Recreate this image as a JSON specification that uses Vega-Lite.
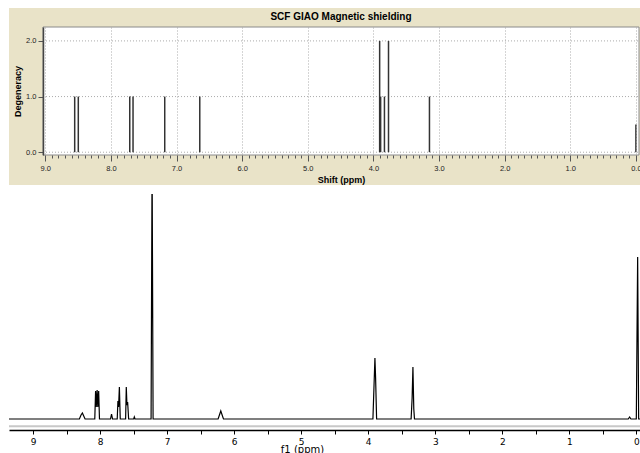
{
  "$schema": "https://vega.github.io/schema/vega-lite/v6.json",
  "padding": {"left": 8, "top": 8, "right": 0, "bottom": 0},
  "background": "white",
  "spacing": 8,
  "columns": 1,
  "config": {"view": {"stroke": null}, "font": "Liberation Sans"},
  "datasets": {
    "sticks": [
      {"shift": 8.552, "degeneracy": 1},
      {"shift": 8.497, "degeneracy": 1},
      {"shift": 7.713, "degeneracy": 1},
      {"shift": 7.663, "degeneracy": 1},
      {"shift": 7.18, "degeneracy": 1},
      {"shift": 6.646, "degeneracy": 1},
      {"shift": 3.905, "degeneracy": 2},
      {"shift": 3.89, "degeneracy": 1},
      {"shift": 3.832, "degeneracy": 1},
      {"shift": 3.77, "degeneracy": 2},
      {"shift": 3.146, "degeneracy": 1},
      {"shift": 0.0, "degeneracy": 0.5}
    ],
    "gridlevels": [{"level": 0}, {"level": 1}, {"level": 2}],
    "spectrum": [
      {"ppm": 9.36, "intensity": 0},
      {"ppm": 8.31, "intensity": 0},
      {"ppm": 8.285, "intensity": 4},
      {"ppm": 8.265, "intensity": 6},
      {"ppm": 8.245, "intensity": 3},
      {"ppm": 8.225, "intensity": 0},
      {"ppm": 8.08, "intensity": 0},
      {"ppm": 8.068, "intensity": 28},
      {"ppm": 8.058, "intensity": 12},
      {"ppm": 8.045, "intensity": 29},
      {"ppm": 8.035, "intensity": 12},
      {"ppm": 8.022, "intensity": 28},
      {"ppm": 8.01, "intensity": 0},
      {"ppm": 7.845, "intensity": 0},
      {"ppm": 7.83, "intensity": 5},
      {"ppm": 7.815, "intensity": 0},
      {"ppm": 7.745, "intensity": 0},
      {"ppm": 7.735, "intensity": 18},
      {"ppm": 7.725, "intensity": 12},
      {"ppm": 7.713, "intensity": 32},
      {"ppm": 7.7, "intensity": 0},
      {"ppm": 7.62, "intensity": 0},
      {"ppm": 7.61, "intensity": 32},
      {"ppm": 7.6, "intensity": 14},
      {"ppm": 7.59, "intensity": 17},
      {"ppm": 7.575, "intensity": 0},
      {"ppm": 7.5, "intensity": 0},
      {"ppm": 7.49, "intensity": 2},
      {"ppm": 7.48, "intensity": 0},
      {"ppm": 7.24, "intensity": 0},
      {"ppm": 7.225, "intensity": 260},
      {"ppm": 7.21, "intensity": 0},
      {"ppm": 6.24, "intensity": 0},
      {"ppm": 6.2, "intensity": 8},
      {"ppm": 6.16, "intensity": 0},
      {"ppm": 3.93, "intensity": 0},
      {"ppm": 3.9, "intensity": 61},
      {"ppm": 3.89, "intensity": 41},
      {"ppm": 3.875, "intensity": 0},
      {"ppm": 3.36, "intensity": 0},
      {"ppm": 3.345, "intensity": 21},
      {"ppm": 3.333, "intensity": 52},
      {"ppm": 3.32, "intensity": 10},
      {"ppm": 3.31, "intensity": 0},
      {"ppm": 0.12, "intensity": 0},
      {"ppm": 0.1, "intensity": 2},
      {"ppm": 0.08, "intensity": 0},
      {"ppm": 0.0, "intensity": 0},
      {"ppm": -0.02, "intensity": 162},
      {"ppm": -0.035, "intensity": 0},
      {"ppm": -0.07, "intensity": 0}
    ]
  },
  "concat": [
    {
      "width": 630,
      "height": 128,
      "title": {"text": "SCF GIAO Magnetic shielding", "fontSize": 10, "fontWeight": "bold", "font": "Liberation Sans", "color": "black", "offset": -14, "dx": 17, "zindex": 1},
      "resolve": {"axis": {"x": "independent"}},
      "layer": [
        {
          "data": {"values": [{}]},
          "mark": {"type": "rect", "fill": "#e9e3c8", "clip": false},
          "encoding": {
            "x": {"datum": 9.553, "type": "quantitative", "scale": {"domain": [9.553, -0.047], "nice": false, "zero": false}, "axis": null},
            "x2": {"datum": -0.1},
            "y": {"datum": 2.59, "type": "quantitative", "scale": {"domain": [-0.05, 2.25], "nice": false, "zero": false}},
            "y2": {"datum": -0.59}
          }
        },
        {
          "data": {"values": [{}]},
          "mark": {"type": "rect", "fill": "white", "stroke": "#8a8a8a", "strokeWidth": 1, "clip": false},
          "encoding": {
            "x": {
              "datum": 9.035, "type": "quantitative",
              "scale": {"domain": [9.553, -0.047], "nice": false, "zero": false},
              "axis": {
                "orient": "bottom", "title": null, "labels": false, "domain": false, "grid": false,
                "values": [0.1,0.2,0.3,0.4,0.5,0.6,0.7,0.8,0.9,1.1,1.2,1.3,1.4,1.5,1.6,1.7,1.8,1.9,2.1,2.2,2.3,2.4,2.5,2.6,2.7,2.8,2.9,3.1,3.2,3.3,3.4,3.5,3.6,3.7,3.8,3.9,4.1,4.2,4.3,4.4,4.5,4.6,4.7,4.8,4.9,5.1,5.2,5.3,5.4,5.5,5.6,5.7,5.8,5.9,6.1,6.2,6.3,6.4,6.5,6.6,6.7,6.8,6.9,7.1,7.2,7.3,7.4,7.5,7.6,7.7,7.8,7.9,8.1,8.2,8.3,8.4,8.5,8.6,8.7,8.8,8.9],
                "tickSize": 3, "tickColor": "#555555", "zindex": 1
              }
            },
            "x2": {"datum": -0.047},
            "y": {"datum": 2.25, "type": "quantitative", "scale": {"domain": [-0.05, 2.25], "nice": false, "zero": false}},
            "y2": {"datum": -0.05}
          }
        },
        {
          "data": {"name": "gridlevels"},
          "mark": {"type": "rule", "color": "#aaaaaa", "strokeDash": [1, 2], "strokeWidth": 1},
          "encoding": {
            "x": {"datum": 9.035, "type": "quantitative", "scale": {"domain": [9.553, -0.047], "nice": false, "zero": false}, "axis": null},
            "x2": {"datum": -0.047},
            "y": {"field": "level", "type": "quantitative", "scale": {"domain": [-0.05, 2.25], "nice": false, "zero": false}}
          }
        },
        {
          "data": {"name": "sticks"},
          "mark": {"type": "rule", "color": "#333333", "strokeWidth": 1.5},
          "encoding": {
            "x": {
              "field": "shift", "type": "quantitative",
              "scale": {"domain": [9.553, -0.047], "nice": false, "zero": false},
              "axis": {
                "orient": "bottom",
                "title": "Shift (ppm)", "titleFontSize": 9, "titleFontWeight": "bold", "titleColor": "black", "titlePadding": 4, "titleX": 332,
                "values": [0,1,2,3,4,5,6,7,8,9], "format": ".1f",
                "labelFontSize": 7.5, "labelColor": "#222222", "labelPadding": 3, "labelFlush": false, "labelOverlap": false,
                "tickSize": 6, "tickColor": "#555555",
                "domain": false,
                "grid": true, "gridColor": "#aaaaaa", "gridDash": [1, 2],
                "zindex": 1
              }
            },
            "y": {
              "field": "degeneracy", "type": "quantitative",
              "scale": {"domain": [-0.05, 2.25], "nice": false, "zero": false},
              "axis": {
                "offset": -34,
                "title": "Degeneracy", "titleFontSize": 9, "titleFontWeight": "bold", "titleColor": "black", "titlePadding": 3,
                "values": [0, 1, 2], "format": ".1f",
                "labelFontSize": 7.5, "labelColor": "#222222", "labelPadding": 2,
                "tickSize": 5, "tickColor": "#555555",
                "domainColor": "#444444", "domainWidth": 1.5,
                "grid": false,
                "zindex": 1
              }
            },
            "y2": {"datum": 0}
          }
        }
      ]
    },
    {
      "width": 632,
      "height": 236,
      "resolve": {"axis": {"x": "independent"}},
      "layer": [
        {
          "data": {"values": [{}]},
          "mark": {"type": "rule", "color": "#c8c8c8", "strokeWidth": 2},
          "encoding": {
            "x": {
              "datum": 9.36, "type": "quantitative",
              "scale": {"domain": [9.36, -0.07], "nice": false, "zero": false},
              "axis": {
                "orient": "bottom", "title": null, "labels": false, "domain": false, "grid": false,
                "values": [0.5,1.5,2.5,3.5,4.5,5.5,6.5,7.5,8.5],
                "tickSize": 4, "tickColor": "black"
              }
            },
            "x2": {"datum": -0.07},
            "y": {"datum": -7.3, "type": "quantitative", "scale": {"domain": [-11, 225], "nice": false, "zero": false}, "axis": null}
          }
        },
        {
          "data": {"name": "spectrum"},
          "mark": {"type": "line", "color": "black", "strokeWidth": 1.2, "clip": true},
          "encoding": {
            "x": {
              "field": "ppm", "type": "quantitative",
              "scale": {"domain": [9.36, -0.07], "nice": false, "zero": false},
              "axis": {
                "orient": "bottom",
                "title": "f1 (ppm)", "titleFont": "DejaVu Sans", "titleFontSize": 10, "titleFontWeight": "normal", "titleColor": "black",
                "titleX": 293, "titleY": 22, "titleBaseline": "alphabetic",
                "values": [0,1,2,3,4,5,6,7,8,9], "format": "d",
                "labelFont": "DejaVu Sans", "labelFontSize": 9, "labelColor": "black", "labelPadding": 3, "labelFlush": false, "labelOverlap": false,
                "tickSize": 4, "tickColor": "black",
                "domainColor": "black", "domainWidth": 1.5,
                "grid": false
              }
            },
            "y": {"field": "intensity", "type": "quantitative", "scale": {"domain": [-11, 225], "nice": false, "zero": false}, "axis": null}
          }
        }
      ]
    }
  ]
}
